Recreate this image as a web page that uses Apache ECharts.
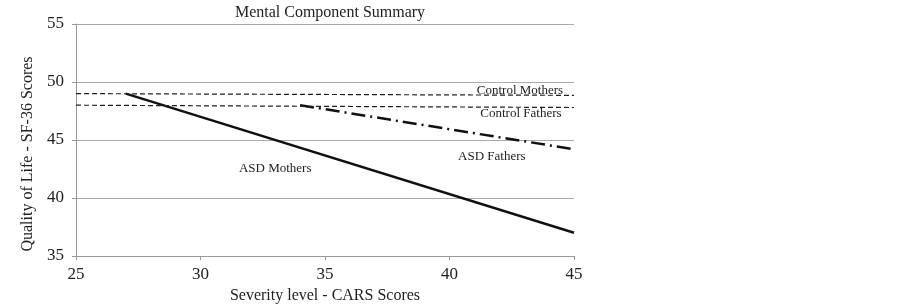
<!DOCTYPE html>
<html>
<head>
<meta charset="utf-8">
<script src="https://cdn.jsdelivr.net/npm/echarts@6/dist/echarts.min.js"></script>
<style>
html, body { margin: 0; padding: 0; background: #fff; }
#chart { width: 902px; height: 304px; }
</style>
</head>
<body>
<div id="chart"></div>
<script>
// 数据
var asdMothers = [[27, 49], [45, 37]];
var asdFathers = [[34, 48], [45, 44.2]];
var controlMothers = [[25, 49], [45, 48.85]];
var controlFathers = [[25, 48], [45, 47.8]];

var xTicks = [25, 30, 35, 40, 45];
var yTicks = [35, 40, 45, 50, 55];

var serif = '"Liberation Serif", "DejaVu Serif", serif';
var ink = '#222';

// 线旁边的文字标签
function lineLabel(text, coord) {
    return {
        symbol: 'circle',
        symbolSize: 1,
        itemStyle: { color: 'rgba(0,0,0,0)' },
        silent: true,
        data: [{ coord: coord, value: text }],
        label: {
            show: true,
            formatter: '{c}',
            position: 'inside',
            fontFamily: serif,
            fontSize: 13,
            color: ink
        }
    };
}

var chart = echarts.init(document.getElementById('chart'));

var option = {
    animation: false,
    title: {
        text: 'Mental Component Summary',
        left: 325,
        textAlign: 'center',
        top: 0,
        textStyle: { fontFamily: serif, fontSize: 16, fontWeight: 'normal', color: ink }
    },
    grid: { left: 76, right: 328, top: 24, bottom: 48, outerBoundsMode: 'none', containLabel: false },
    xAxis: {
        type: 'value',
        min: xTicks[0],
        max: xTicks[xTicks.length - 1],
        interval: 5,
        name: 'Severity level - CARS Scores',
        nameLocation: 'middle',
        nameGap: 31,
        nameTextStyle: { fontFamily: serif, fontSize: 16, color: ink },
        axisLine: { lineStyle: { color: '#999', width: 1 } },
        axisTick: { show: true, length: 4, lineStyle: { color: '#999' } },
        axisLabel: { fontFamily: serif, fontSize: 17, color: ink, margin: 10 },
        splitLine: { show: false }
    },
    yAxis: {
        type: 'value',
        min: yTicks[0],
        max: yTicks[yTicks.length - 1],
        interval: 5,
        name: 'Quality of Life - SF-36 Scores',
        nameLocation: 'middle',
        nameGap: 37,
        nameTextStyle: { fontFamily: serif, fontSize: 16, color: ink, padding: [0, 28, 0, 0] },
        axisLine: { show: true, lineStyle: { color: '#999', width: 1 } },
        axisTick: { show: true, length: 4, lineStyle: { color: '#999' } },
        axisLabel: { fontFamily: serif, fontSize: 17, color: ink, margin: 12 },
        splitLine: { show: true, lineStyle: { color: '#aaa', width: 1 } }
    },
    series: [
        {
            name: 'ASD Mothers',
            type: 'line',
            data: asdMothers,
            showSymbol: false,
            lineStyle: { color: '#111', width: 2.5, type: 'solid' },
            markPoint: lineLabel('ASD Mothers', [33.0, 42.5])
        },
        {
            name: 'ASD Fathers',
            type: 'line',
            data: asdFathers,
            showSymbol: false,
            lineStyle: { color: '#111', width: 2.5, type: [14, 5, 2, 5] },
            markPoint: lineLabel('ASD Fathers', [41.7, 43.55])
        },
        {
            name: 'Control Mothers',
            type: 'line',
            data: controlMothers,
            showSymbol: false,
            lineStyle: { color: '#222', width: 1.2, type: [5, 3] },
            markPoint: lineLabel('Control Mothers', [42.83, 49.3])
        },
        {
            name: 'Control Fathers',
            type: 'line',
            data: controlFathers,
            showSymbol: false,
            lineStyle: { color: '#222', width: 1.2, type: [5, 3] },
            markPoint: lineLabel('Control Fathers', [42.87, 47.25])
        }
    ]
};

chart.setOption(option);
</script>
</body>
</html>
